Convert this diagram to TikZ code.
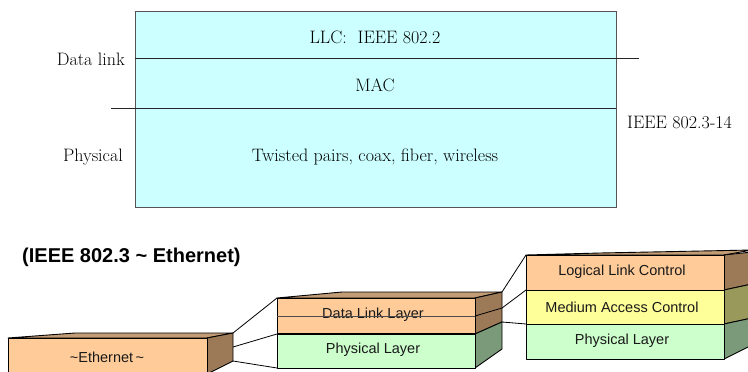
\documentclass[tikz,border=0pt]{standalone}
\usepackage{fontspec}
\setmainfont{Latin Modern Roman}
\newfontfamily\arialf{Liberation Sans}
\definecolor{cyanbox}{HTML}{CCFFFF}
\definecolor{orfront}{HTML}{FFCC99}
\definecolor{orside}{HTML}{9C7A58}
\definecolor{ortop}{HTML}{C29C74}
\definecolor{yefront}{HTML}{FFFF99}
\definecolor{yeside}{HTML}{99995C}
\definecolor{grfront}{HTML}{CCFFCC}
\definecolor{grside}{HTML}{7A9A7A}
\definecolor{frame}{HTML}{555555}
\tikzset{
  serif/.style={font=\fontsize{18}{21}\selectfont, inner sep=0pt},
  sans/.style={font=\arialf\fontsize{14.5}{17}\selectfont, inner sep=0pt, text=black!90},
  face/.style={draw=black, line width=0.9pt, line join=round},
  conn/.style={draw=black, line width=0.8pt},
}
\begin{document}
\begin{tikzpicture}[x=1pt,y=-1pt]
\useasboundingbox (0,0) rectangle (748,372);
\clip (0,0) rectangle (748,372);

% ---------- top OSI diagram ----------
\draw[fill=cyanbox, draw=frame, line width=1pt] (135,11) rectangle (616,207);
\coordinate (dlL) at (135,58);
\coordinate (dlR) at (639,58);
\coordinate (phL) at (111,108);
\coordinate (phR) at (616,108);
\draw[draw=black!85, line width=0.9pt] (dlL) -- (dlR);
\draw[draw=black!85, line width=0.9pt] (phL) -- (phR);
\node[serif] (llc) at (375,37) {LLC:\ \ IEEE 802.2};
\node[serif] (mac) at (375,85) {MAC};
\node[serif] (twp) at (375,157) {Twisted pairs, coax, fiber, wireless};
\node[serif, anchor=east] (dl) at (125,59) {Data link};
\node[serif, anchor=east] (phys) at (123,157) {Physical};
\node[serif, anchor=west] (ieee) at (627,122) {IEEE 802.3-14};

% ---------- title ----------
\node[font=\arialf\bfseries\fontsize{20}{24}\selectfont, inner sep=0pt, anchor=west] (title) at (22,257) {(IEEE 802.3 \textasciitilde\ Ethernet)};

% ---------- Ethernet block ----------
\coordinate (eA) at (8,338);
\coordinate (eB) at (207,338);
\coordinate (eC) at (207,374);
\coordinate (eD) at (8,374);
\coordinate (eT1) at (75,333);
\coordinate (eT2) at (233,333);
\coordinate (eM) at (233,347);
\coordinate (eBk) at (233,361);
\path[face, fill=ortop] (eA) -- (eT1) -- (eT2) -- (eB) -- cycle;
\path[face, fill=orside] (eB) -- (eT2) -- (eBk) -- (eC) -- cycle;
\path[face, fill=orfront] (eA) rectangle (eC);
\node[sans] (eth) at (107,357) {\textasciitilde Ethernet\,\textasciitilde};

% ---------- middle block ----------
\coordinate (mA) at (277,298);
\coordinate (mB) at (475,298);
\coordinate (mDivL) at (277,334);
\coordinate (mDivR) at (475,334);
\coordinate (mC) at (475,368);
\coordinate (mD) at (277,368);
\coordinate (mT1) at (342,292);
\coordinate (mT2) at (502,292);
\coordinate (mS1) at (502,308);
\coordinate (mS2) at (502,322);
\coordinate (mS3) at (502,349);
\path[face, fill=ortop] (mA) -- (mT1) -- (mT2) -- (mB) -- cycle;
\path[face, fill=orside] (mB) -- (mT2) -- (mS2) -- (mDivR) -- cycle;
\path[face, fill=grside] (mDivR) -- (mS2) -- (mS3) -- (mC) -- cycle;
\draw[black, line width=0.8pt] (475,316) -- (mS1);
\path[face, fill=orfront] (mA) rectangle (mDivR);
\path[face, fill=grfront] (mDivL) rectangle (mC);
\draw[black, line width=1.4pt] (mDivL) -- (mDivR);
\node[sans] (dll) at (373,315) {Data Link Layer};
\draw[black!70, line width=0.8pt] (277,316) -- (475,316);
\node[sans] (pl1) at (373,350) {Physical Layer};

% ---------- right block ----------
\coordinate (rA) at (526,255);
\coordinate (rB) at (724,255);
\coordinate (r1L) at (526,290);
\coordinate (r1R) at (724,290);
\coordinate (r2L) at (526,324);
\coordinate (r2R) at (724,324);
\coordinate (rC) at (724,359);
\coordinate (rD) at (526,359);
\path[face, fill=ortop] (rA) -- (600,253) -- (752,250) -- (rB) -- cycle;
\path[face, fill=orside] (rB) -- (752,252) -- (752,284) -- (r1R) -- cycle;
\path[face, fill=yeside] (r1R) -- (752,284) -- (752,318) -- (r2R) -- cycle;
\path[face, fill=grside] (r2R) -- (752,318) -- (752,345) -- (rC) -- cycle;
\path[face, fill=orfront] (rA) rectangle (r1R);
\path[face, fill=yefront] (r1L) rectangle (r2R);
\path[face, fill=grfront] (r2L) rectangle (rC);
\node[sans] (llc2) at (622,272) {Logical Link Control};
\node[sans] (mac2) at (622,307) {Medium Access Control};
\node[sans] (pl2) at (622,341) {Physical Layer};

% ---------- connectors ----------
\draw[conn] (eT2) -- (mA);
\draw[conn] (eM) -- (mDivL);
\draw[conn] (eBk) -- (mD);
\draw[conn] (mT2) -- (rA);
\draw[conn] (mS1) -- (r1L);
\draw[conn] (mS2) -- (r2L);
\end{tikzpicture}
\end{document}
